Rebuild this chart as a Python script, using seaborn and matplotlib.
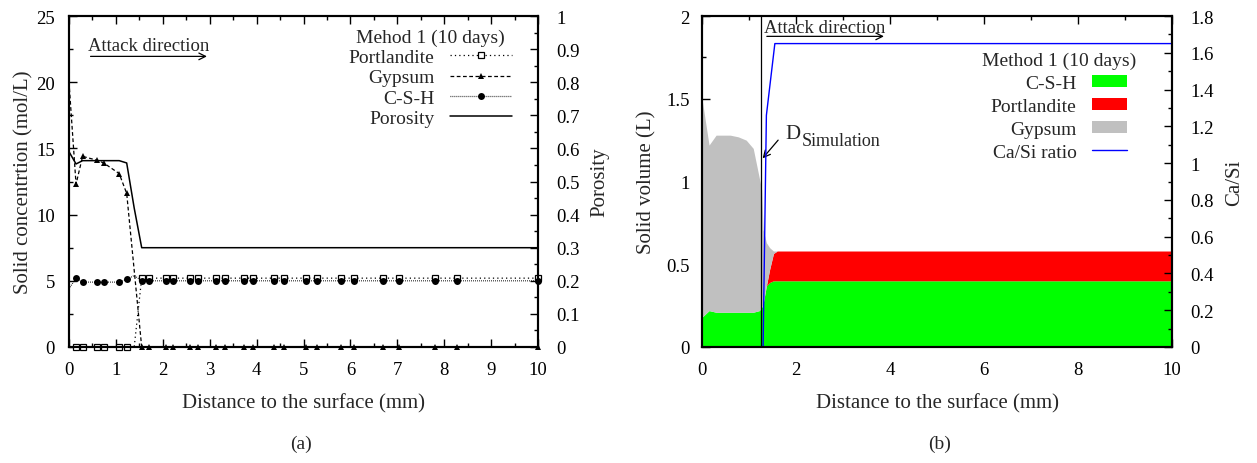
import matplotlib
matplotlib.use("Agg")
import matplotlib.pyplot as plt
import matplotlib.ticker as mticker
from matplotlib.patches import Patch
from matplotlib.lines import Line2D
import seaborn as sns

# ---- (a) solid concentrations, method 1 after 10 days ----
dist_a = [0, 0.15, 0.29, 0.60, 0.74, 1.07, 1.23, 1.39, 1.55, 1.71, 2.06, 2.22, 2.58, 2.76,
          3.13, 3.33, 3.74, 3.93, 4.37, 4.58, 5.05, 5.29, 5.81, 6.08, 6.70, 7.03, 7.80, 8.27, 10.0]
portl_a = [0, 0, 0, 0, 0, 0, 0, 0, 5.2, 5.2, 5.2, 5.2, 5.2, 5.2,
           5.2, 5.2, 5.2, 5.2, 5.2, 5.2, 5.2, 5.2, 5.2, 5.2, 5.2, 5.2, 5.2, 5.2, 5.2]
gyps_a = [20.0, 12.3, 14.4, 14.1, 13.9, 13.1, 11.6, 5.8, 0, 0, 0, 0, 0, 0,
          0, 0, 0, 0, 0, 0, 0, 0, 0, 0, 0, 0, 0, 0, 0]
csh_a = [4.4, 5.2, 4.9, 4.9, 4.9, 4.9, 5.1, 5.4, 5.0, 5.0, 5.0, 5.0, 5.0, 5.0,
         5.0, 5.0, 5.0, 5.0, 5.0, 5.0, 5.0, 5.0, 5.0, 5.0, 5.0, 5.0, 5.0, 5.0, 5.0]
poro_a = [0.59, 0.553, 0.563, 0.563, 0.563, 0.563, 0.556, 0.42, 0.30, 0.30, 0.30, 0.30, 0.30, 0.30,
          0.30, 0.30, 0.30, 0.30, 0.30, 0.30, 0.30, 0.30, 0.30, 0.30, 0.30, 0.30, 0.30, 0.30, 0.30]

# ---- (b) solid volumes and Ca/Si ----
dist_b = [0, 0.15, 0.30, 0.60, 0.77, 0.94, 1.09, 1.22, 1.27, 1.30, 1.37, 1.44, 1.52, 1.60, 10.0]
csh_b = [0.18, 0.22, 0.21, 0.21, 0.21, 0.21, 0.21, 0.22, 0.24, 0.26, 0.37, 0.39, 0.40, 0.40, 0.40]
portl_b = [0, 0, 0, 0, 0, 0, 0, 0, 0, 0, 0, 0.08, 0.165, 0.18, 0.18]
gyps_b = [1.32, 1.00, 1.07, 1.07, 1.06, 1.04, 0.99, 0.80, 0.71, 0.45, 0.26, 0.13, 0.015, 0, 0]
dist_casi = [0, 1.30, 1.37, 1.55, 10.0]
casi = [0, 0, 1.26, 1.65, 1.65]
d_sim = 1.26

sns.set_theme(style="ticks")
plt.rcParams['font.family'] = ['Liberation Serif', 'DejaVu Serif']
plt.rcParams['axes.linewidth'] = 1.5
plt.rcParams['axes.edgecolor'] = 'black'

TICK = 13.5
LAB = 15
fig = plt.figure(figsize=(12.57, 4.64), dpi=100)
ax = fig.add_axes([69 / 1257, 116 / 464, 469 / 1257, 331 / 464])
ax2 = ax.twinx()
bx = fig.add_axes([702 / 1257, 116 / 464, 470 / 1257, 331 / 464])
bx2 = bx.twinx()


def style_ticks(a):
    a.tick_params(which='both', direction='in', colors='black', labelsize=TICK)
    a.tick_params(which='major', length=6, width=1)
    a.tick_params(which='minor', length=3, width=1)


# panel (a)
skip = [i for i in range(len(dist_a)) if i not in (0, 7)]
sns.lineplot(x=dist_a, y=portl_a, ax=ax, color='black', lw=0.9, linestyle=(0, (1, 2.5)),
             marker='s', markersize=5, markerfacecolor='white', markeredgecolor='black',
             markeredgewidth=0.9, markevery=skip, clip_on=False, label='Portlandite', legend=False)
sns.lineplot(x=dist_a, y=gyps_a, ax=ax, color='black', lw=0.9, linestyle=(0, (3, 2)),
             marker='^', markersize=4, markeredgewidth=0, markevery=skip, clip_on=False,
             label='Gypsum', legend=False)
sns.lineplot(x=dist_a, y=csh_a, ax=ax, color='black', lw=0.9, linestyle=(0, (0.6, 1)),
             marker='o', markersize=5, markeredgewidth=0, markevery=skip, clip_on=False,
             label='C-S-H', legend=False)
sns.lineplot(x=dist_a, y=poro_a, ax=ax2, color='black', lw=1.1, label='Porosity', legend=False)

ax.set_xlim(0, 10)
ax.set_ylim(0, 25)
ax2.set_ylim(0, 1)
ax.xaxis.set_major_locator(mticker.MultipleLocator(1))
ax.xaxis.set_minor_locator(mticker.MultipleLocator(0.5))
ax.yaxis.set_major_locator(mticker.MultipleLocator(5))
ax.yaxis.set_minor_locator(mticker.MultipleLocator(2.5))
ax2.yaxis.set_major_locator(mticker.MultipleLocator(0.1))
ax2.yaxis.set_minor_locator(mticker.MultipleLocator(0.05))
ax2.yaxis.set_major_formatter(mticker.FuncFormatter(lambda v, p: f"{v:g}"))
for a in (ax, ax2):
    style_ticks(a)
ax.tick_params(axis='x', which='both', top=True, pad=10)
ax.tick_params(axis='y', which='both', right=False, pad=10)
ax2.tick_params(axis='y', which='both', pad=13)
ax.set_xlabel('Distance to the surface (mm)', fontsize=LAB, labelpad=11)
ax.set_ylabel('Solid concentrtion (mol/L)', fontsize=LAB, labelpad=2)
ax2.set_ylabel('Porosity', fontsize=LAB, labelpad=8)

ax.text(0.4, 22.75, 'Attack direction', fontsize=13.5, va='center', ha='left')
ax.annotate('', xy=(3.0, 21.95), xytext=(0.4, 21.95),
            arrowprops=dict(arrowstyle='->', color='black', lw=0.9))

h1, l1 = ax.get_legend_handles_labels()
h2, l2 = ax2.get_legend_handles_labels()
leg = ax2.legend(h1 + h2, l1 + l2, title='Mehod 1 (10 days)', loc='upper right',
                 bbox_to_anchor=(512 / 1257, 1 - 29.5 / 464), bbox_transform=fig.transFigure,
                 frameon=False, markerfirst=False, fontsize=14, title_fontsize=14,
                 handlelength=3.2, handletextpad=0.8, labelspacing=0.14, borderpad=0,
                 borderaxespad=0)

# panel (b)
bx.stackplot(dist_b, csh_b, portl_b, gyps_b, colors=['#00ff00', '#ff0000', '#c0c0c0'],
             linewidth=0)
bx.axvline(d_sim, color='black', lw=0.9)
sns.lineplot(x=dist_casi, y=casi, ax=bx2, color='#0000ff', lw=1.0, label='Ca/Si ratio', legend=False)

bx.set_xlim(0, 10)
bx.set_ylim(0, 2)
bx2.set_ylim(0, 1.8)
bx.xaxis.set_major_locator(mticker.MultipleLocator(2))
bx.xaxis.set_minor_locator(mticker.MultipleLocator(1))
bx.yaxis.set_major_locator(mticker.MultipleLocator(0.5))
bx.yaxis.set_minor_locator(mticker.MultipleLocator(0.25))
bx2.yaxis.set_major_locator(mticker.MultipleLocator(0.2))
bx2.yaxis.set_minor_locator(mticker.MultipleLocator(0.1))
bx.yaxis.set_major_formatter(mticker.FuncFormatter(lambda v, p: f"{v:g}"))
bx2.yaxis.set_major_formatter(mticker.FuncFormatter(lambda v, p: f"{v:g}"))
for a in (bx, bx2):
    style_ticks(a)
bx.tick_params(axis='x', which='both', top=True, pad=10)
bx.tick_params(axis='y', which='both', right=False, pad=9)
bx2.tick_params(axis='y', which='both', pad=13)
bx.set_xlabel('Distance to the surface (mm)', fontsize=LAB, labelpad=11)
bx.set_ylabel('Solid volume (L)', fontsize=LAB, labelpad=7)
bx2.set_ylabel('Ca/Si', fontsize=LAB, labelpad=8)

bx.text(1.32, 1.93, 'Attack direction', fontsize=13.5, va='center', ha='left')
bx.annotate('', xy=(3.93, 1.877), xytext=(1.32, 1.877),
            arrowprops=dict(arrowstyle='->', color='black', lw=0.9))
bx.annotate('', xy=(1.29, 1.14), xytext=(1.62, 1.25),
            arrowprops=dict(arrowstyle='->', color='black', lw=0.9, shrinkA=0, shrinkB=0))
bx.text(1.78, 1.29, 'D', fontsize=15, va='center', ha='left')
bx.text(2.12, 1.245, 'Simulation', fontsize=13, va='center', ha='left')

hb = [Patch(facecolor='#00ff00', edgecolor='none'),
      Patch(facecolor='#ff0000', edgecolor='none'),
      Patch(facecolor='#c0c0c0', edgecolor='none'),
      Line2D([], [], color='#0000ff', lw=1.0)]
lb = ['C-S-H', 'Portlandite', 'Gypsum', 'Ca/Si ratio']
legb = bx2.legend(hb, lb, title='Method 1 (10 days)', loc='upper right',
                  bbox_to_anchor=(1136 / 1257, 1 - 53 / 464), bbox_transform=fig.transFigure,
                  frameon=False, markerfirst=False, fontsize=14, title_fontsize=14,
                  handlelength=1.8, handleheight=0.6, handletextpad=0.8, labelspacing=0.3,
                  borderpad=0, borderaxespad=0)

fig.text(301 / 1257, 1 - 444 / 464, '(a)', fontsize=14, ha='center', va='center')
fig.text(940 / 1257, 1 - 444 / 464, '(b)', fontsize=14, ha='center', va='center')

fig.savefig('out.png', dpi=100)
